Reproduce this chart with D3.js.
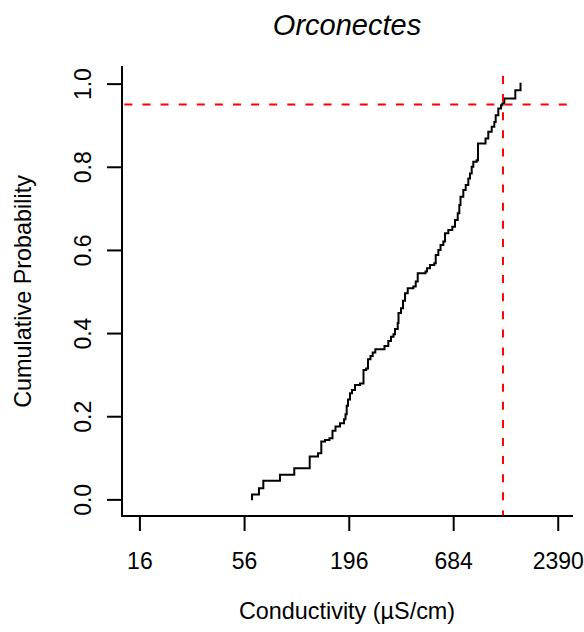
<!DOCTYPE html>
<html>
<head>
<meta charset="utf-8">
<script src="https://cdn.jsdelivr.net/npm/d3@7"></script>
<style>
  html, body { margin: 0; padding: 0; background: #fff; }
  svg { display: block; font-family: "Liberation Sans", Arial, Helvetica, sans-serif; }
</style>
</head>
<body>
<svg id="chart" width="584" height="632"></svg>
<script>
// ---- data ----
const titleText = "Orconectes";
const xLabel = "Conductivity (\u00B5S/cm)";
const yLabel = "Cumulative Probability";
const xTicks = [16, 56, 196, 684, 2390];
const yTicks = [0.0, 0.2, 0.4, 0.6, 0.8, 1.0];
const xLimits = [12.99, 2835];
const yLimits = [-0.04, 1.04];

// sorted conductivity values at each step of the empirical CDF
const conductivity = [61.6, 61.6, 66.9, 70.5, 86.1, 102.1, 122.8, 135.6, 141.1, 147.5,
  155.6, 161.3, 167.2, 176.5, 185.2, 188.5, 191.2, 194.2, 198.9, 203.8,
  211.2, 224.2, 233.8, 241.5, 246.7, 254.2, 261.0, 269.3, 300.6, 314.6,
  324.9, 334.8, 340.9, 352.1, 355.5, 366.3, 375.2, 384.3, 396.9, 424.4,
  436.8, 447.4, 491.1, 500.0, 518.3, 545.7, 554.9, 572.4, 587.8, 607.7,
  620.3, 645.2, 676.8, 699.0, 722.1, 736.0, 746.5, 772.0, 794.5, 819.6,
  836.4, 853.5, 870.2, 906.2, 920.4, 1006.9, 1041.1, 1084.4, 1118.6, 1137.6,
  1173.5, 1211.9, 1231.0, 1260.9, 1438.6, 1530.9];
// cumulative probability reached at each of those values
const cumProb = [0.000, 0.012, 0.027, 0.045, 0.059, 0.075, 0.103, 0.111, 0.139, 0.143,
  0.147, 0.165, 0.175, 0.183, 0.193, 0.205, 0.225, 0.240, 0.255, 0.263,
  0.275, 0.279, 0.311, 0.315, 0.337, 0.345, 0.353, 0.361, 0.369, 0.381,
  0.391, 0.397, 0.410, 0.424, 0.448, 0.460, 0.478, 0.496, 0.508, 0.512,
  0.524, 0.544, 0.548, 0.556, 0.564, 0.568, 0.588, 0.600, 0.612, 0.620,
  0.640, 0.648, 0.656, 0.672, 0.688, 0.708, 0.728, 0.744, 0.756, 0.772,
  0.784, 0.800, 0.812, 0.816, 0.856, 0.868, 0.884, 0.896, 0.908, 0.924,
  0.940, 0.948, 0.952, 0.964, 0.984, 1.000];
const refProb = 0.95;      // horizontal reference line
const refCond = 1241;      // vertical reference line (95th percentile)

// ---- layout ----
const mLeft = 122, mRight = 572, mTop = 67, mBottom = 516;
const svg = d3.select("#chart");

const x = d3.scaleLog().domain(xLimits).range([mLeft, mRight]);
const y = d3.scaleLinear().domain(yLimits).range([mBottom, mTop]);

// ECDF step line
const pts = conductivity.map((c, i) => [c, cumProb[i]]);
const line = d3.line().x(d => x(d[0])).y(d => y(d[1])).curve(d3.curveStepAfter);
svg.append("path")
  .attr("d", line(pts))
  .attr("fill", "none")
  .attr("stroke", "#000")
  .attr("stroke-width", 2)
  .attr("stroke-linejoin", "miter")
  .attr("stroke-linecap", "square");

// reference lines
svg.append("line")
  .attr("x1", mLeft).attr("x2", mRight)
  .attr("y1", y(refProb)).attr("y2", y(refProb))
  .attr("stroke", "#ff0000").attr("stroke-width", 2)
  .attr("stroke-dasharray", "8,10.1").attr("stroke-dashoffset", 15.7);
svg.append("line")
  .attr("x1", x(refCond)).attr("x2", x(refCond))
  .attr("y1", mTop).attr("y2", mBottom)
  .attr("stroke", "#ff0000").attr("stroke-width", 2)
  .attr("stroke-dasharray", "8,10.1").attr("stroke-dashoffset", 9.1);

// axes
const xAxis = d3.axisBottom(x).tickValues(xTicks).tickFormat(d => String(d))
  .tickSize(15).tickSizeOuter(0).tickPadding(22);
const gx = svg.append("g").attr("transform", `translate(0,${mBottom})`).call(xAxis);
gx.select(".domain").remove();
gx.selectAll(".tick line").attr("stroke", "#000").attr("stroke-width", 2);
gx.selectAll(".tick text").attr("fill", "#000")
  .style("font-size", "23px").style("font-family", "'Liberation Sans', Arial, sans-serif");

const yAxis = d3.axisLeft(y).tickValues(yTicks).tickFormat(d3.format(".1f"))
  .tickSize(15).tickSizeOuter(0);
const gy = svg.append("g").attr("transform", `translate(${mLeft},0)`).call(yAxis);
gy.select(".domain").remove();
gy.selectAll(".tick line").attr("stroke", "#000").attr("stroke-width", 2);
gy.selectAll(".tick text")
  .attr("x", null).attr("dy", null)
  .attr("text-anchor", "middle")
  .attr("transform", "translate(-31,0) rotate(-90)")
  .attr("fill", "#000")
  .style("font-size", "23px").style("font-family", "'Liberation Sans', Arial, sans-serif");

// L-shaped box
svg.append("path")
  .attr("d", `M${mLeft},${mTop}V${mBottom}H${mRight}`)
  .attr("fill", "none").attr("stroke", "#000").attr("stroke-width", 2)
  .attr("stroke-linecap", "square");

// labels
svg.append("text")
  .attr("x", (mLeft + mRight) / 2).attr("y", 35)
  .attr("text-anchor", "middle")
  .style("font-size", "29px").style("font-style", "italic")
  .text(titleText);

svg.append("text")
  .attr("x", (mLeft + mRight) / 2).attr("y", 619)
  .attr("text-anchor", "middle")
  .style("font-size", "23.4px")
  .text(xLabel);

svg.append("text")
  .attr("transform", `translate(31,${(mTop + mBottom) / 2}) rotate(-90)`)
  .attr("text-anchor", "middle")
  .style("font-size", "23.4px")
  .text(yLabel);
</script>
</body>
</html>
